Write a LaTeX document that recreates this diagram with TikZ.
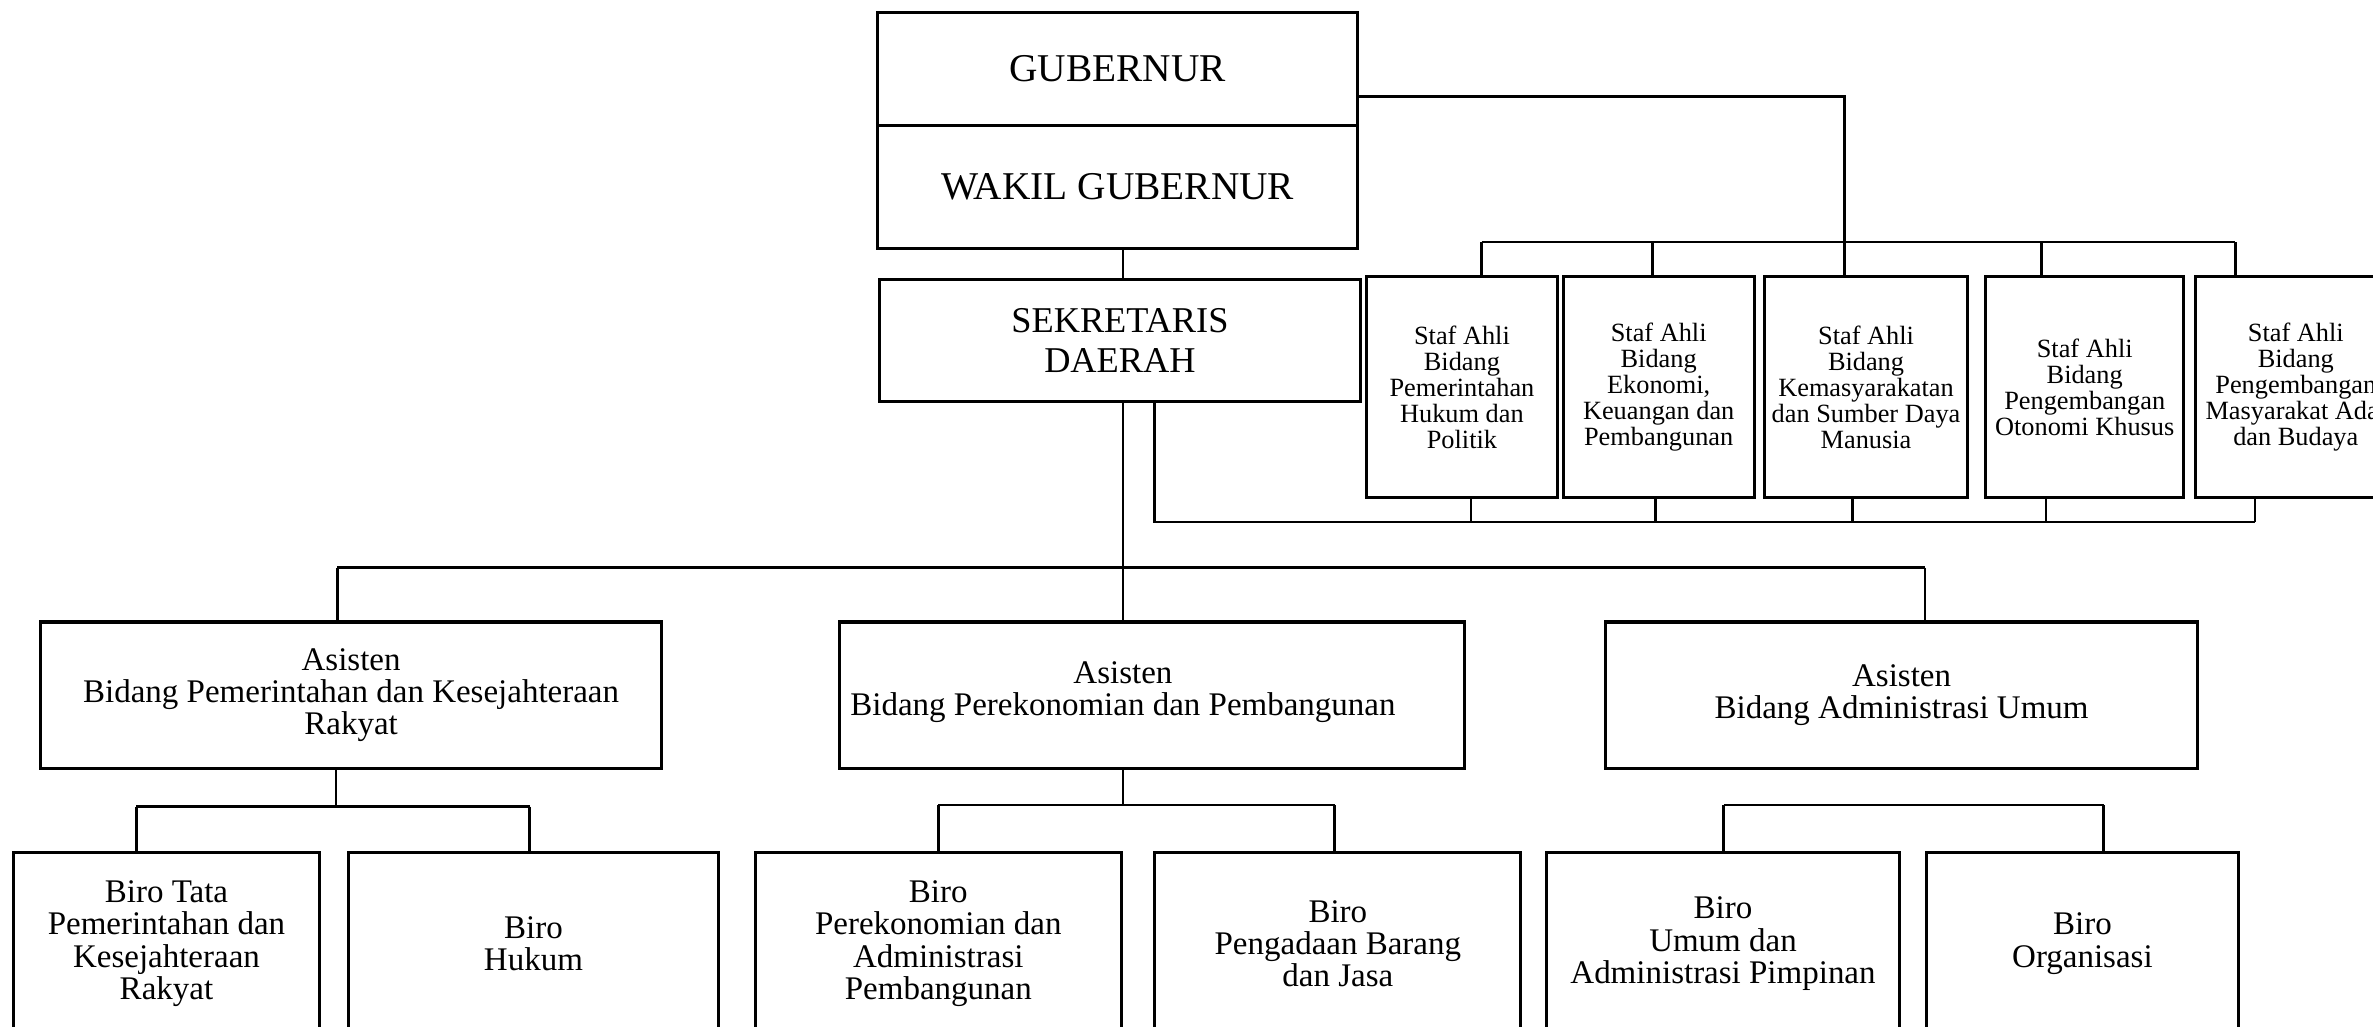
\documentclass[tikz,border=0pt]{standalone}
\usepackage{fontspec}
\setmainfont{Liberation Serif}
\begin{document}
\begin{tikzpicture}[x=0.5pt, y=-0.5pt,
  box/.style={draw, line width=1pt, align=center, inner sep=0pt},
  big/.style={font=\fontsize{13}{15}\selectfont},
  mid/.style={font=\fontsize{10.9}{10.6}\selectfont},
  small/.style={font=\fontsize{8.7}{8.6}\selectfont},
  link/.style={line width=0.9pt}]
\useasboundingbox (0,0) rectangle (1568,678);
\node[box, big, minimum width=158.5pt, minimum height=37.5pt] (gub) at (738.5,45.5) {GUBERNUR};
\node[box, big, minimum width=158.5pt, minimum height=40.5pt] (wakil) at (738.5,123.5) {WAKIL GUBERNUR};
\node[box, font=\fontsize{12}{13}\selectfont, minimum width=159pt, minimum height=40pt] (sekda) at (740,225) {SEKRETARIS\\DAERAH};
\node[box, small, minimum width=63pt, minimum height=73pt] (staf1) at (966,256) {Staf Ahli\\Bidang\\Pemerintahan\\Hukum dan\\Politik};
\node[box, small, minimum width=63pt, minimum height=73pt] (staf2) at (1096,256) {Staf Ahli\\Bidang\\Ekonomi,\\Keuangan dan\\Pembangunan};
\node[box, small, minimum width=67pt, minimum height=73pt] (staf3) at (1233,256) {Staf Ahli\\Bidang\\Kemasyarakatan\\dan Sumber Daya\\Manusia};
\node[box, small, minimum width=65.5pt, minimum height=73pt] (staf4) at (1377.5,256) {Staf Ahli\\Bidang\\Pengembangan\\Otonomi Khusus};
\node[box, small, minimum width=66pt, minimum height=73pt] (staf5) at (1517,256) {Staf Ahli\\Bidang\\Pengembangan\\Masyarakat Adat\\dan Budaya};
\node[box, mid, minimum width=205pt, minimum height=48.5pt] (as1) at (232,459.5) {Asisten\\Bidang Pemerintahan dan Kesejahteraan\\Rakyat};
\node[box, minimum width=206.5pt, minimum height=48.5pt] (as2) at (761.5,459.5) {};
\node[mid, align=center] (as2t) at (742,457.5) {Asisten\\Bidang Perekonomian dan Pembangunan};
\node[box, mid, minimum width=195.5pt, minimum height=48.5pt] (as3) at (1256.5,459.5) {Asisten\\Bidang Administrasi Umum};
\node[box, mid, minimum width=101pt, minimum height=60.5pt] (biro1) at (110,623.5) {Biro Tata\\Pemerintahan dan\\Kesejahteraan\\Rakyat};
\node[box, mid, minimum width=122.5pt, minimum height=60.5pt] (biro2) at (352.5,623.5) {Biro\\Hukum};
\node[box, mid, minimum width=121pt, minimum height=60.5pt] (biro3) at (620,623.5) {Biro\\Perekonomian dan\\Administrasi\\Pembangunan};
\node[box, mid, minimum width=121pt, minimum height=60.5pt] (biro4) at (884,623.5) {Biro\\Pengadaan Barang\\dan Jasa};
\node[box, mid, minimum width=116.5pt, minimum height=60.5pt] (biro5) at (1138.5,623.5) {Biro\\Umum dan\\Administrasi Pimpinan};
\node[box, mid, minimum width=103pt, minimum height=60.5pt] (biro6) at (1376,623.5) {Biro\\Organisasi};
\coordinate (g1) at (1219,64);
\coordinate (t1) at (979,160);
\coordinate (t2) at (1092,160);
\coordinate (t3) at (1219,160);
\coordinate (t4) at (1349,160);
\coordinate (t5) at (1477,160);
\coordinate (u0) at (763,345);
\coordinate (u1) at (972,345);
\coordinate (u2) at (1094,345);
\coordinate (u3) at (1224,345);
\coordinate (u4) at (1352,345);
\coordinate (u5) at (1490,345);
\coordinate (m1) at (223,375);
\coordinate (m2) at (742,375);
\coordinate (m3) at (1272,375);
\coordinate (k1) at (222,533);
\coordinate (k2) at (742,532);
\coordinate (p1) at (90,533);
\coordinate (p2) at (350,533);
\coordinate (p3) at (620,532);
\coordinate (p4) at (882,532);
\coordinate (p5) at (1139,532);
\coordinate (p6) at (1390,532);
\draw[link] (g1 -| gub.east) -- (g1) -- (t3);
\draw[link] (t1) -- (t5);
\foreach \i in {1,...,5} \draw[link] (t\i) -- (t\i |- staf\i.north);
\draw[link] (m2 |- wakil.south) -- (m2 |- sekda.north);
\draw[link] (u0 |- sekda.south) -- (u0) -- (u5);
\foreach \i in {1,...,5} \draw[link] (u\i |- staf\i.south) -- (u\i);
\draw[link] (m2 |- sekda.south) -- (m2 |- as2.north);
\draw[link] (m1) -- (m3);
\draw[link] (m1) -- (m1 |- as1.north);
\draw[link] (m3) -- (m3 |- as3.north);
\draw[link] (k1 |- as1.south) -- (k1);
\draw[link] (k2 |- as2.south) -- (k2);
\draw[link] (p1) -- (p2);
\draw[link] (p3) -- (p4);
\draw[link] (p5) -- (p6);
\foreach \i in {1,...,6} \draw[link] (p\i) -- (p\i |- biro\i.north);
\end{tikzpicture}
\end{document}
